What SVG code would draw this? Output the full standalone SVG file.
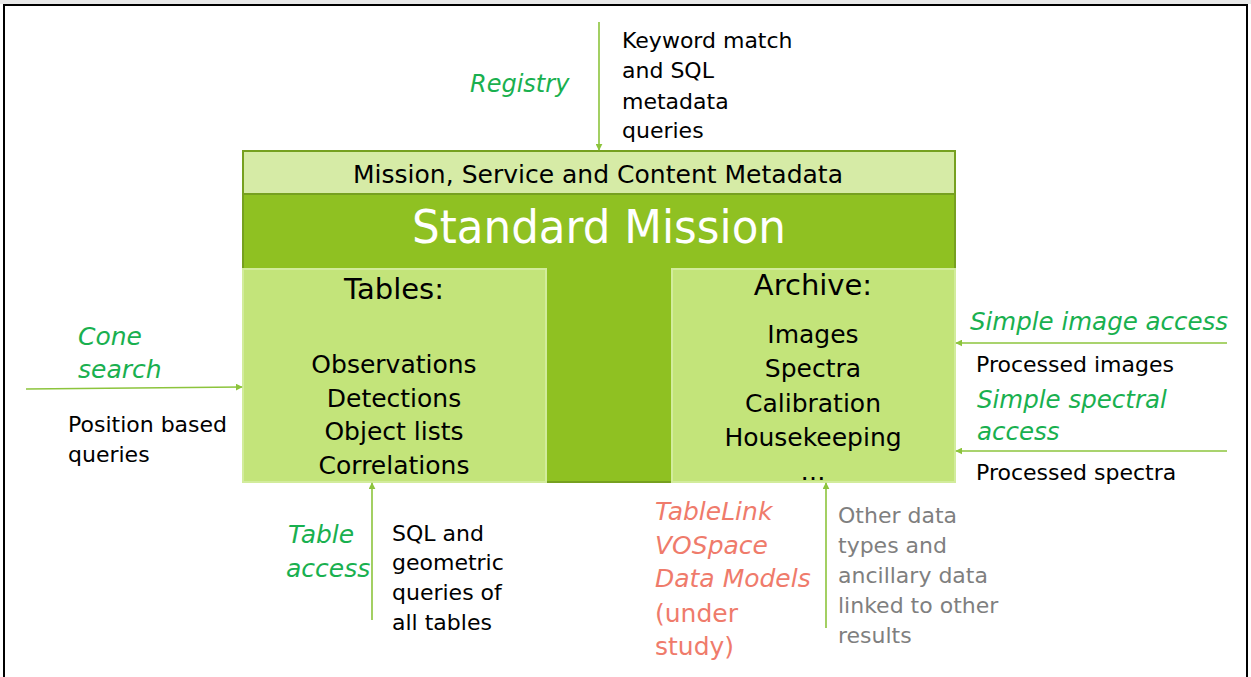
<svg xmlns="http://www.w3.org/2000/svg" width="1251" height="677" viewBox="0 0 1251 677">
<defs>
<style>
text{font-family:"DejaVu Sans","Liberation Sans",sans-serif;fill:#000;}
.g{fill:#19b04f;font-style:italic;}
.s{fill:#ef7b6b;}
.si{fill:#ef7b6b;font-style:italic;}
.gr{fill:#7f7f7f;}
.c{text-anchor:middle;}
.conn{stroke:#8cc43c;stroke-width:1.6;fill:none;marker-end:url(#ah);}
</style>
<marker id="ah" viewBox="0 0 10 10" refX="9" refY="5" markerWidth="7" markerHeight="7" orient="auto" markerUnits="userSpaceOnUse">
<path d="M0,0 L10,5 L0,10 z" fill="#8cc43c"/>
</marker>
</defs>
<rect x="0" y="0" width="1251" height="677" fill="#fff"/>
<rect x="0" y="0" width="1251" height="4" fill="#e8e8e8"/>
<path d="M4,680 V5 H1247 V680" fill="none" stroke="#000" stroke-width="2"/>

<g id="standard-mission">
<rect x="243" y="151" width="712" height="331" fill="#8fc122" stroke="#76a020" stroke-width="2"/>
<text x="599" y="243" class="c" font-size="47" textLength="374" lengthAdjust="spacingAndGlyphs" style="fill:#fff">Standard Mission</text>
</g>
<g id="metadata">
<rect x="243" y="151" width="712" height="43" fill="#d6eba6" stroke="#76a020" stroke-width="2"/>
<text x="598" y="183" class="c" font-size="24" textLength="490" lengthAdjust="spacingAndGlyphs">Mission, Service and Content Metadata</text>
</g>
<g id="tables">
<rect x="243" y="269" width="303" height="213" fill="#c3e47a" stroke="#d2ec9c" stroke-width="2"/>
<text x="394" y="299" class="c" font-size="29">Tables:</text>
<text x="394" y="373" class="c" font-size="25">Observations</text>
<text x="394" y="407" class="c" font-size="25">Detections</text>
<text x="394" y="440" class="c" font-size="25">Object lists</text>
<text x="394" y="474" class="c" font-size="25">Correlations</text>
</g>
<g id="archive">
<rect x="672" y="269" width="283" height="213" fill="#c3e47a" stroke="#d2ec9c" stroke-width="2"/>
<text x="813" y="295" class="c" font-size="29">Archive:</text>
<text x="813" y="343" class="c" font-size="25">Images</text>
<text x="813" y="377" class="c" font-size="25">Spectra</text>
<text x="813" y="412" class="c" font-size="25">Calibration</text>
<text x="813" y="446" class="c" font-size="25">Housekeeping</text>
<text x="813" y="480" class="c" font-size="25">…</text>
</g>

<g id="connectors">
<line class="conn" x1="599" y1="22" x2="599" y2="150"/>
<line class="conn" x1="26" y1="389" x2="242" y2="387"/>
<line class="conn" x1="1227" y1="343" x2="956" y2="343"/>
<line class="conn" x1="1227" y1="451" x2="956" y2="451"/>
<line class="conn" x1="372" y1="620" x2="372" y2="483"/>
<line class="conn" x1="826" y1="628" x2="826" y2="483"/>
</g>

<g id="registry-label">
<text x="470" y="92" class="g" font-size="24">Registry</text>
<text x="622" y="48" font-size="22">Keyword match</text>
<text x="622" y="78" font-size="22">and SQL</text>
<text x="622" y="109" font-size="22">metadata</text>
<text x="622" y="138" font-size="22">queries</text>
</g>
<g id="cone-label">
<text x="78" y="345" class="g" font-size="25">Cone</text>
<text x="78" y="378" class="g" font-size="25">search</text>
<text x="68" y="432" font-size="22">Position based</text>
<text x="68" y="462" font-size="22">queries</text>
</g>
<g id="image-label">
<text x="970" y="330" class="g" font-size="24.5">Simple image access</text>
<text x="976" y="372" font-size="22">Processed images</text>
<text x="977" y="408" class="g" font-size="24.5">Simple spectral</text>
<text x="977" y="440" class="g" font-size="24.5">access</text>
<text x="976" y="480" font-size="22">Processed spectra</text>
</g>
<g id="table-access-label">
<text x="288" y="543" class="g" font-size="25">Table</text>
<text x="286" y="577" class="g" font-size="25">access</text>
<text x="392" y="541" font-size="22">SQL and</text>
<text x="392" y="570" font-size="22">geometric</text>
<text x="392" y="600" font-size="22">queries of</text>
<text x="392" y="630" font-size="22">all tables</text>
</g>
<g id="tablelink-label">
<text x="655" y="520" class="si" font-size="25">TableLink</text>
<text x="655" y="554" class="si" font-size="25">VOSpace</text>
<text x="655" y="587" class="si" font-size="25">Data Models</text>
<text x="655" y="622" class="s" font-size="25">(under</text>
<text x="655" y="655" class="s" font-size="25">study)</text>
</g>
<g id="other-data-label">
<text x="838" y="523" class="gr" font-size="22">Other data</text>
<text x="838" y="553" class="gr" font-size="22">types and</text>
<text x="838" y="583" class="gr" font-size="22">ancillary data</text>
<text x="838" y="613" class="gr" font-size="22">linked to other</text>
<text x="838" y="643" class="gr" font-size="22">results</text>
</g>
</svg>
